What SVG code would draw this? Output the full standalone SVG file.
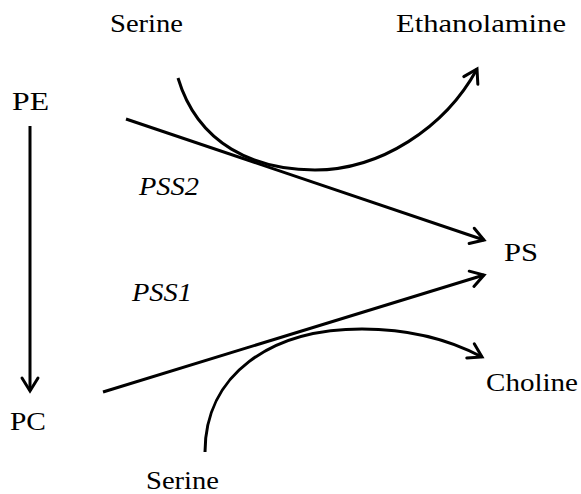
<svg xmlns="http://www.w3.org/2000/svg" width="581" height="494" viewBox="0 0 581 494">
<style>
text{font-family:"Liberation Serif","Times New Roman",serif;font-size:26px;fill:#000}
.it{font-style:italic}
.c{fill:none;stroke:#000;stroke-width:3}
</style>
<defs>
<marker id="a" markerUnits="userSpaceOnUse" viewBox="-16 -10 20 20" refX="0" refY="0" markerWidth="20" markerHeight="20" orient="auto" overflow="visible">
<path d="M-13,-8 L0,0 L-13,8" fill="none" stroke="#000" stroke-width="3" stroke-linecap="round" stroke-linejoin="miter"/>
</marker>
</defs>
<rect width="581" height="494" fill="#fff"/>
<g id="serine-top"><text x="110" y="32" textLength="73" lengthAdjust="spacingAndGlyphs">Serine</text></g>
<g id="ethanolamine"><text x="396" y="32" textLength="170" lengthAdjust="spacingAndGlyphs">Ethanolamine</text></g>
<g id="pe"><text x="12" y="110" textLength="37" lengthAdjust="spacingAndGlyphs">PE</text></g>
<g id="pss2"><text class="it" x="139" y="195" textLength="60" lengthAdjust="spacingAndGlyphs">PSS2</text></g>
<g id="ps"><text x="504" y="261" textLength="34" lengthAdjust="spacingAndGlyphs">PS</text></g>
<g id="pss1"><text class="it" x="132" y="301" textLength="60" lengthAdjust="spacingAndGlyphs">PSS1</text></g>
<g id="choline"><text x="486" y="391" textLength="92" lengthAdjust="spacingAndGlyphs">Choline</text></g>
<g id="pc"><text x="10" y="430" textLength="36" lengthAdjust="spacingAndGlyphs">PC</text></g>
<g id="serine-bottom"><text x="146" y="489" textLength="73" lengthAdjust="spacingAndGlyphs">Serine</text></g>
<g id="connectors">
<path class="c" d="M30,126 L30,391" marker-end="url(#a)"/>
<path class="c" d="M126,119 L484,240" marker-end="url(#a)"/>
<path class="c" d="M103,392 L484,275" marker-end="url(#a)"/>
<path class="c" d="M178,78 C198,145 255,170 315,170 C380,170 445,128 477,69" marker-end="url(#a)"/>
<path class="c" d="M205,452 C205,375 270,329 362,329 C410,329 450,340 482,357" marker-end="url(#a)"/>
</g>
</svg>
